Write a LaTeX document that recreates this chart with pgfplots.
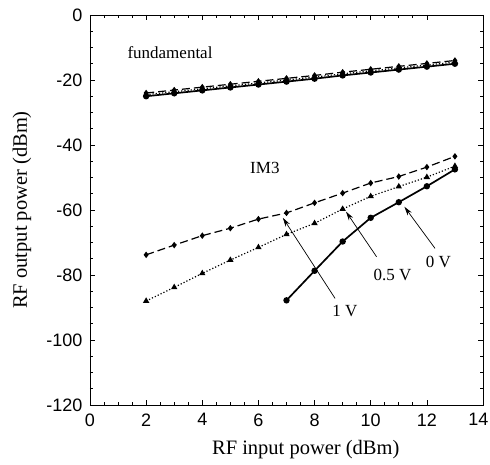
\documentclass[border=0pt]{standalone}
\usepackage{fontspec}
\setmainfont{Liberation Serif}
\newfontfamily\tickfont{Liberation Sans}
\usepackage{pgfplots}
\pgfplotsset{compat=1.18}
\usetikzlibrary{arrows.meta}
\begin{document}
\begin{tikzpicture}
\begin{axis}[
  scale only axis, width=393pt, height=390pt,
  xmin=0, xmax=14, ymin=-120, ymax=0,
  xtick={0,2,...,12}, ytick={-120,-100,...,0},
  extra x ticks={14},
  extra x tick style={xticklabel style={xshift=-4.5pt}},
  minor x tick num=3, minor y tick num=3,
  tick align=inside, major tick length=5pt, minor tick length=3pt,
  axis line style={line width=0.8pt}, every tick/.style={line width=0.7pt, black},
  /pgf/number format/assume math mode=true,
  tick label style={font=\tickfont\fontsize{18}{20}\selectfont},
  xticklabel style={yshift=-5pt},
  yticklabel style={xshift=-4pt},
  xlabel={RF input power (dBm)}, ylabel={RF output power (dBm)},
  label style={font=\fontsize{20.5}{22}\selectfont},
  xlabel style={at={(axis description cs:0.549,-0.115)}, anchor=center},
  ylabel style={at={(axis description cs:-0.173,0.5)}, anchor=center},
  clip=false,
]
% fundamental
\addplot[black, line width=1.7pt, mark=*, mark size=2.3pt] coordinates {
 (2,-25) (3,-24.1) (4,-23.2) (5,-22.3) (6,-21.4) (7,-20.5) (8,-19.6) (9,-18.6) (10,-17.7) (11,-16.8) (12,-15.9) (13,-15)};
\addplot[black, line width=1.2pt, dotted, mark=triangle*, mark size=2.5pt, mark options={solid}] coordinates {
 (2,-24.5) (3,-23.6) (4,-22.7) (5,-21.8) (6,-20.9) (7,-20) (8,-19.1) (9,-18.1) (10,-17.2) (11,-16.3) (12,-15.4) (13,-14.5)};
\addplot[black, line width=1.2pt, dash pattern=on 8pt off 4pt, mark=diamond*, mark size=2.3pt, mark options={solid}] coordinates {
 (2,-24) (3,-23.1) (4,-22.2) (5,-21.3) (6,-20.4) (7,-19.5) (8,-18.6) (9,-17.6) (10,-16.7) (11,-15.8) (12,-14.9) (13,-14)};
% IM3
\addplot[black, line width=1.7pt, mark=*, mark size=2.3pt] coordinates {
 (7,-87.8) (8,-78.7) (9,-69.7) (10,-62.4) (11,-57.6) (12,-52.7) (13,-47.5)};
\addplot[black, line width=1.2pt, dotted, mark=triangle*, mark size=2.5pt, mark options={solid}] coordinates {
 (2,-88) (3,-83.8) (4,-79.5) (5,-75.4) (6,-71.5) (7,-67.5) (8,-64.1) (9,-59.7) (10,-55.8) (11,-52.8) (12,-49.9) (13,-46.5)};
\addplot[black, line width=1.2pt, dash pattern=on 8pt off 4pt, mark=diamond*, mark size=2.3pt, mark options={solid}] coordinates {
 (2,-73.8) (3,-70.8) (4,-67.9) (5,-65.6) (6,-62.8) (7,-60.9) (8,-57.8) (9,-54.8) (10,-51.7) (11,-49.7) (12,-46.8) (13,-43.5)};
% annotations
\node[font=\fontsize{17}{19}\selectfont] at (axis cs:2.85,-11.7) {fundamental};
\node[font=\fontsize{17}{19}\selectfont] at (axis cs:6.23,-47.2) {IM3};
\draw[-{Stealth[length=9pt,width=5pt]}, line width=0.7pt] (axis cs:8.73,-87.2) -- (axis cs:6.87,-62.4);
\draw[-{Stealth[length=9pt,width=5pt]}, line width=0.7pt] (axis cs:10.21,-74.4) -- (axis cs:9.12,-60.5);
\draw[-{Stealth[length=9pt,width=5pt]}, line width=0.7pt] (axis cs:12.29,-71.8) -- (axis cs:11.2,-59);
\node[font=\fontsize{17}{19}\selectfont] at (axis cs:9.08,-91) {1 V};
\node[font=\fontsize{17}{19}\selectfont] at (axis cs:10.78,-80) {0.5 V};
\node[font=\fontsize{17}{19}\selectfont] at (axis cs:12.41,-76.1) {0 V};
\end{axis}
\pgfresetboundingbox
\path ([shift={(-90pt,-60pt)}]current axis.south west) rectangle ([shift={(400pt,405pt)}]current axis.south west);
\end{tikzpicture}
\end{document}
